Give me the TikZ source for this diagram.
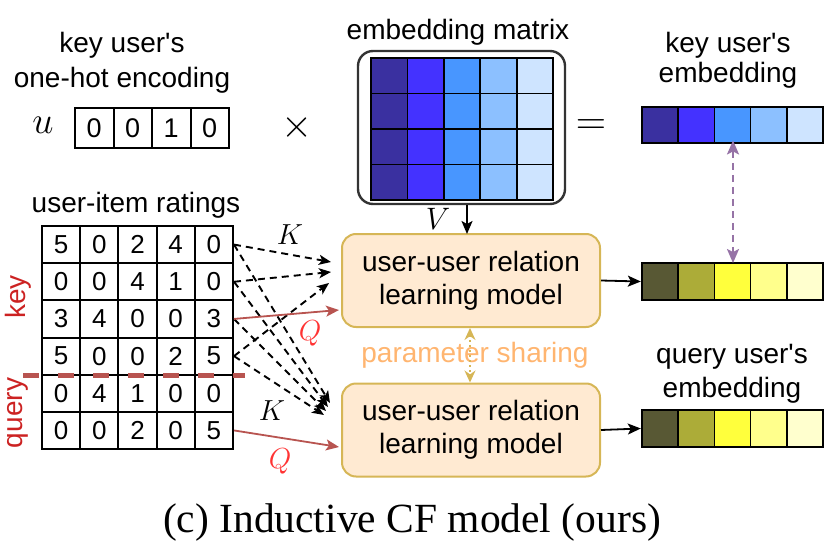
\RequirePackage{fix-cm}
\documentclass[tikz,border=0pt]{standalone}
\usepackage{fontspec}
\setmainfont{Liberation Sans}[Ligatures=TeXOff]
\newfontfamily\capfont{Liberation Serif}
\usetikzlibrary{arrows.meta}
\definecolor{bA}{RGB}{58,48,160}
\definecolor{bB}{RGB}{68,50,255}
\definecolor{bC}{RGB}{72,150,255}
\definecolor{bD}{RGB}{140,192,255}
\definecolor{bE}{RGB}{206,228,255}
\definecolor{yA}{RGB}{88,88,52}
\definecolor{yB}{RGB}{172,172,56}
\definecolor{yC}{RGB}{255,255,60}
\definecolor{yD}{RGB}{255,255,140}
\definecolor{yE}{RGB}{255,255,206}
\definecolor{boxfill}{RGB}{255,234,210}
\definecolor{boxline}{RGB}{214,182,86}
\definecolor{shareorange}{RGB}{255,181,112}
\definecolor{purp}{RGB}{150,115,166}
\definecolor{qline}{RGB}{184,84,80}
\definecolor{qtext}{RGB}{255,51,51}
\definecolor{keyred}{RGB}{204,34,34}
\begin{document}
\begin{tikzpicture}[x=1pt,y=-1pt,
  lab/.style={font=\fontsize{28}{33}\selectfont, inner sep=0pt, anchor=base},
  digitA/.style={draw, line width=2pt, minimum width=38.5pt, minimum height=40pt, inner sep=0pt, font=\fontsize{27}{28}\selectfont},
  digitB/.style={draw, line width=2pt, minimum width=38.2pt, minimum height=37.17pt, inner sep=0pt, font=\fontsize{26}{28}\selectfont},
  ecell/.style={draw=black, line width=1.6pt, minimum width=36.2pt, minimum height=36pt, inner sep=0pt},
  mcell/.style={draw=black, line width=1.8pt, minimum width=36.4pt, minimum height=35.5pt, inner sep=0pt},
  frame/.style={draw=black, line width=2.4pt, minimum width=181pt, minimum height=36.5pt, inner sep=0pt},
  modelbox/.style={draw=boxline, fill=boxfill, line width=2pt, rounded corners=14pt, minimum width=258pt, minimum height=93pt, align=center, inner sep=0pt, font=\fontsize{28}{33}\selectfont},
  arr/.style={-{Stealth[length=13pt,width=11pt,inset=3pt]}, line width=1.8pt},
  karr/.style={-{Stealth[length=12pt,width=10pt,inset=3pt]}, line width=1.9pt, dash pattern=on 7pt off 5pt},
  qarr/.style={-{Stealth[length=13pt,width=11pt,inset=3pt]}, line width=1.8pt, draw=qline},
  mathlab/.style={inner sep=0pt, font=\fontsize{29}{31}\selectfont}
]
\useasboundingbox (0,0) rectangle (840,556);

% ---- top-left: one-hot encoding
\node[lab] (kuA) at (122,53) {key user's};
\node[lab] (kuB) at (122,88) {one-hot encoding};
\node[inner sep=0pt, font=\fontsize{38}{40}\selectfont] (uvar) at (43,125) {$u$};
\foreach \v [count=\c] in {0,0,1,0}
  \node[digitA] (oh\c) at ({75+(\c-0.5)*38.5},128) {\v};
\node[inner sep=0pt, font=\fontsize{40}{42}\selectfont] (times) at (297,128) {$\times$};

% ---- embedding matrix
\node[lab] (emlab) at (458,40) {embedding matrix};
\node[draw=black!80, line width=2.4pt, rounded corners=15pt, minimum width=207pt, minimum height=153pt, inner sep=0pt] (embbox) at (461.5,127.5) {};
\foreach \r in {1,...,4}{
  \foreach \col [count=\c] in {bA,bB,bC,bD,bE}{
    \node[mcell, fill=\col] (em\r\c) at ({371+(\c-0.5)*36.4},{58+(\r-0.5)*35.5}) {};
  }
}
\node[inner sep=0pt, font=\fontsize{42}{44}\selectfont] (eq) at (591,127) {$=$};

% ---- key user's embedding
\node[lab] (keA) at (728,53) {key user's};
\node[lab] (keB) at (728,83) {embedding};
\foreach \col [count=\c] in {bA,bB,bC,bD,bE}
  \node[ecell, fill=\col] (ke\c) at ({642+(\c-0.5)*36.2},125) {};
\node[frame] (kemb) at (732.5,125) {};

% ---- ratings
\node[lab] (ratlab) at (136,212) {user-item ratings};
\foreach \row [count=\r] in {{5,0,2,4,0},{0,0,4,1,0},{3,4,0,0,3},{5,0,0,2,5},{0,4,1,0,0},{0,0,2,0,5}}{
  \foreach \v [count=\c] in \row {
    \node[digitB] (rt\r\c) at ({42+(\c-0.5)*38.2},{226+(\r-0.5)*37.17}) {\v};
  }
}
\node[lab, rotate=90, text=keyred] (keylab) at (25,297) {key};
\node[lab, rotate=90, text=keyred] (querylab) at (23,413) {query};
\coordinate (sepL) at (23,375);
\coordinate (sepR) at (245,375);
\draw[draw=qline, line width=5pt, dash pattern=on 16pt off 19pt] (sepL) -- (sepR);

% ---- model boxes
\node[modelbox] (mA) at (471,280.5) {user-user relation\\learning model};
\node[modelbox] (mB) at (471,430) {user-user relation\\learning model};
\node[lab, text=shareorange] (share) at (475,362) {parameter sharing};
\draw[{Stealth[length=12pt,width=11pt]}-{Stealth[length=12pt,width=11pt]}, draw=boxline, line width=1.8pt, dash pattern=on 2pt off 3pt] ([xshift=-1pt]mA.south) -- ([xshift=-1pt]mB.north);

% V arrow
\coordinate (vtop) at (467,205);
\coordinate (vbot) at (467,234);
\draw[arr] (vtop) -- (vbot);
\node[inner sep=0pt, font=\fontsize{31}{33}\selectfont] (vlab) at (438,219) {$V$};

% K arrows to top box
\coordinate (tA1) at (331,262);
\coordinate (tA2) at (331,272);
\coordinate (tA3) at (329,283);
\draw[karr] (rt15.east) -- (tA1);
\draw[karr] (rt25.east) -- (tA2);
\draw[karr] (rt45.east) -- (tA3);
% K arrows to bottom box
\coordinate (tB1) at (330,403);
\coordinate (tB2) at (328,407);
\coordinate (tB3) at (326,411);
\coordinate (tB4) at (324,415);
\draw[karr] (rt15.east) -- (tB1);
\draw[karr] (rt25.east) -- (tB2);
\draw[karr] (rt35.east) -- (tB3);
\draw[karr] (rt45.east) -- (tB4);
\node[mathlab] (kA) at (290,235) {$K$};
\node[mathlab] (kB) at (272,411) {$K$};

% Q arrows
\coordinate (qA) at (339,310);
\coordinate (qB) at (339,447);
\draw[qarr] (rt35.east) -- (qA);
\draw[qarr] (rt65.east) -- (qB);
\node[mathlab, text=qtext] (qlA) at (310,333) {$Q$};
\node[mathlab, text=qtext] (qlB) at (280,461) {$Q$};

% ---- outputs
\foreach \col [count=\c] in {yA,yB,yC,yD,yE}{
  \node[ecell, fill=\col] (ya\c) at ({642+(\c-0.5)*36.2},281.5) {};
  \node[ecell, fill=\col] (yb\c) at ({642+(\c-0.5)*36.2},428.5) {};
}
\node[frame] (yembA) at (732.5,281.5) {};
\node[frame] (yembB) at (732.5,428.5) {};
\draw[arr] (mA.east) -- (yembA.west);
\draw[arr] (mB.east) -- (yembB.west);
\node[lab] (qeA) at (732,363) {query user's};
\node[lab] (qeB) at (732,397) {embedding};
\draw[{Stealth[length=14pt,width=12pt,inset=3pt]}-{Stealth[length=14pt,width=12pt,inset=3pt]}, draw=purp, line width=2pt, dash pattern=on 7pt off 5pt] ([xshift=0.5pt,yshift=4pt]kemb.south) -- ([xshift=0.5pt,yshift=-1pt]yembA.north);

% ---- caption
\node[inner sep=0pt, anchor=base, font=\capfont\fontsize{41.5}{45}\selectfont] (cap) at (412,532) {(c) Inductive CF model (ours)};
\end{tikzpicture}
\end{document}
